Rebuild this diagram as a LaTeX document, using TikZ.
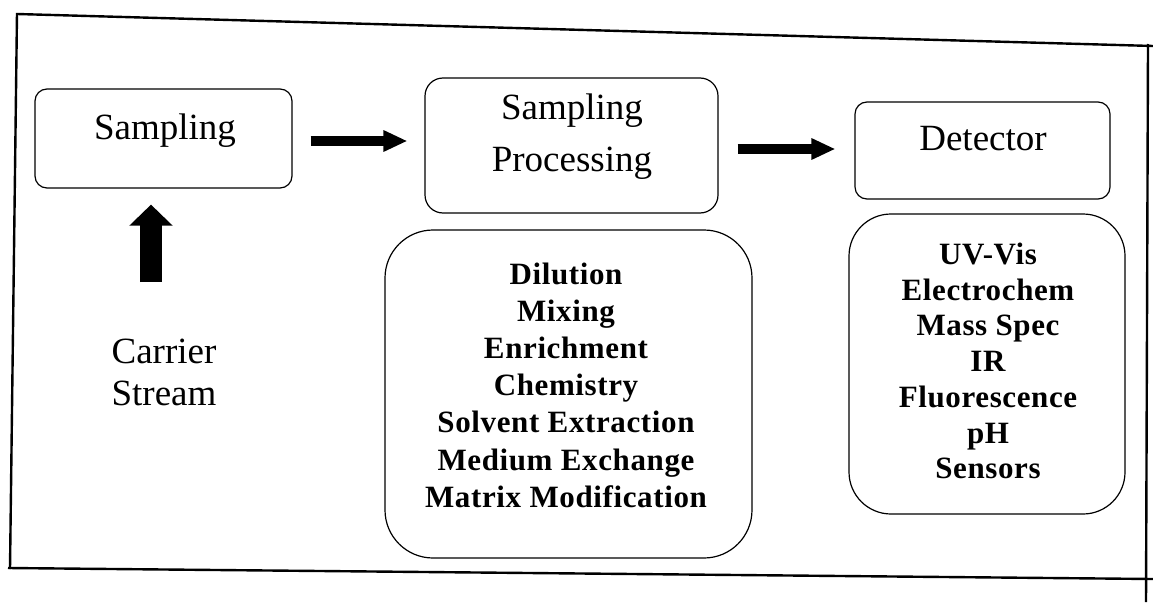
\documentclass[tikz,border=0pt]{standalone}
\usepackage{fontspec}
\setmainfont{Liberation Serif}
\usetikzlibrary{arrows.meta}
\begin{document}
\begin{tikzpicture}[x=1pt,y=-1pt,
  box/.style={draw, line width=1.2pt, rounded corners=#1, inner sep=0pt},
  lbl/.style={font=\fontsize{37}{42}\selectfont, inner sep=0pt},
  lst/.style={align=center, inner sep=0pt},
  frameline/.style={line width=2.4pt},
  fatarrow/.style={line width=10pt, -{Triangle[width=20pt,length=24pt]}}
]
\useasboundingbox (0,0) rectangle (1153,602);
% outer frame (scanned, slightly skewed)
\draw[frameline] (17,14) -- (1153,46);
\draw[frameline] (17,13) -- (10,569);
\draw[frameline] (8,568) -- (1153,579);
\draw[frameline] (1148,44) -- (1146,602);
% boxes
\node[box=12pt, minimum width=257pt, minimum height=99pt] (sampling) at (163.5,138.5) {};
\node[box=18pt, minimum width=293pt, minimum height=135pt] (proc) at (571.5,145.5) {};
\node[box=12pt, minimum width=255pt, minimum height=97pt] (det) at (982.5,150.5) {};
\node[box=48pt, minimum width=367pt, minimum height=328pt] (proclist) at (568.5,394) {};
\node[box=42pt, minimum width=276pt, minimum height=300pt] (detlist) at (987,364) {};
% labels
\node[lbl, anchor=base] (samplingtxt) at (165,139) {Sampling};
\node[lbl, anchor=base] (proctxt1) at (572,119) {Sampling};
\node[lbl, anchor=base] (proctxt2) at (572,171) {Processing};
\node[lbl, anchor=base] (dettxt) at (983,150) {Detector};
\node[lbl, anchor=base] (carrier1) at (164,363) {Carrier};
\node[lbl, anchor=base] (carrier2) at (164,405) {Stream};
\node[lst, font=\fontsize{31}{37.2}\selectfont\bfseries\addfontfeatures{LetterSpace=2}] (proclisttxt) at (566,385) {Dilution\\Mixing\\Enrichment\\Chemistry\\Solvent Extraction\\Medium Exchange\\Matrix Modification};
\node[lst, font=\fontsize{31}{35.7}\selectfont\bfseries\addfontfeatures{LetterSpace=2}] (detlisttxt) at (988,361) {UV-Vis\\Electrochem\\Mass Spec\\IR\\Fluorescence\\pH\\Sensors};
% arrows
\draw[fatarrow, shorten <=18pt, shorten >=17pt] (sampling.east |- 0,141) -- (proc.west |- 0,141);
\draw[fatarrow, shorten <=19pt, shorten >=19pt] (proc.east |- 0,149) -- (det.west |- 0,149);
\coordinate (carriertail) at (151,282);
\draw[line width=22pt, -{Triangle[width=42pt,length=21pt]}, shorten >=16pt] (carriertail) -- (carriertail |- sampling.south);
\end{tikzpicture}
\end{document}
